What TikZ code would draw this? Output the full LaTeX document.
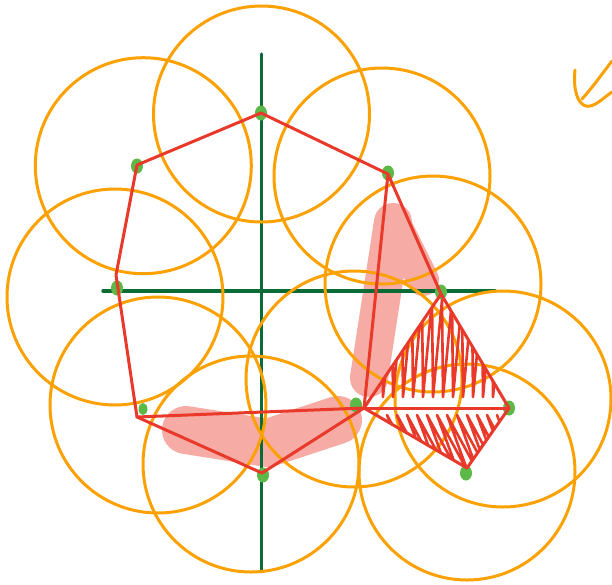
\documentclass[tikz,border=0pt]{standalone}
\usepackage{xcolor}
\usetikzlibrary{shapes.geometric}
\definecolor{diskorange}{HTML}{FBA104}
\definecolor{hullred}{HTML}{E8392B}
\definecolor{smudgepink}{HTML}{F6ABA4}
\definecolor{axisgreen}{HTML}{0B6B36}
\definecolor{dotgreen}{HTML}{5DB947}

\begin{document}
\begin{tikzpicture}[
  x=1pt, y=-1pt,
  disk/.style={draw=diskorange, line width=3pt, circle, minimum size=216pt, inner sep=0pt},
  dot/.style={ellipse, fill=dotgreen, minimum width=12pt, minimum height=15pt, inner sep=0pt},
  axis/.style={draw=axisgreen, line width=3.5pt, line cap=round},
  hull/.style={draw=hullred, line width=3pt, line join=round, line cap=round},
  hatch/.style={draw=hullred, line width=2.6pt, line cap=round, line join=round},
  smudge/.style={draw=smudgepink, line cap=round, line join=round},
  tick/.style={draw=diskorange, line width=3pt, line cap=round, line join=round},
]
  \useasboundingbox (0,0) rectangle (612,584);

  % Highlight strokes
  \draw[smudge, line width=38pt] (393,222) -- (369,378);
  \draw[smudge, line width=32pt] (397,228) -- (423,280);
  \draw[smudge, line width=48pt] (186,430) -- (268,443) -- (338,420);

  % Axes
  \coordinate (xleft) at (103,291);
  \coordinate (xright) at (495,291);
  \coordinate (ytop) at (261.5,54);
  \coordinate (ybot) at (261.5,570);
  \draw[axis] (xleft) -- (xright);
  \draw[axis] (ytop) -- (ybot);

  % Disks
  \node[disk] (dn) at (261.5,114) {};
  \node[disk] (dnw) at (143.3,165.7) {};
  \node[disk] (dne) at (382,176) {};
  \node[disk] (dw) at (115,297) {};
  \node[disk] (de) at (433,284) {};
  \node[disk] (dsw) at (158,405) {};
  \node[disk] (dc) at (354,379) {};
  \node[disk] (dee) at (503,399) {};
  \node[disk] (ds) at (251,464) {};
  \node[disk] (dse) at (467,472) {};

  % Points
  \node[dot] (n) at (261,113) {};
  \node[dot] (nw) at (137,166) {};
  \node[dot] (ne) at (388,173) {};
  \node[dot] (w) at (117,288) {};
  \node[dot] (e) at (441,292) {};
  \node[dot, minimum width=9pt, minimum height=12pt] (sw) at (143,409) {};
  \node[dot] (c) at (356,405) {};
  \node[dot] (s) at (263,475) {};
  \node[dot] (ee) at (509,408) {};
  \node[dot] (se) at (466,473) {};

  % Hull corners
  \coordinate (h1) at (137,165);
  \coordinate (h2) at (261,113);
  \coordinate (h3) at (388,174);
  \coordinate (h4) at (364,408);
  \coordinate (h5) at (262,473);
  \coordinate (h6) at (137,417);
  \coordinate (h7) at (116,275);
  \coordinate (q1) at (441,294);
  \coordinate (q2) at (509,408);
  \coordinate (q3) at (467,468);

  % Hatched region
  \begin{scope}
    \clip (h4) -- (q1) -- (q2) -- cycle;
    \draw[hatch] (372,396) \foreach \x in {378,388,...,500} { -- (\x+4,300) -- (\x+5,397) };
  \end{scope}
  \begin{scope}
    \clip (h4) -- (q2) -- (q3) -- cycle;
    \draw[hatch] (368,415) \foreach \x in {374,384,...,494} { -- (\x+24,472) -- (\x+3,415) };
  \end{scope}

  % Hull
  \draw[hull] (h1) -- (h2) -- (h3) -- (h4) -- (h5) -- (h6) -- (h7) -- cycle;
  \draw[hull] (h6) -- (h4);
  \draw[hull] (h3) -- (q1);
  \draw[hull] (h4) -- (q1) -- (q2) -- (q3) -- cycle;
  \draw[hull] (h4) -- (q2);

  % Tick mark
  \coordinate (t1) at (575,70);
  \coordinate (t2) at (612,92);
  \coordinate (t3) at (582,99);
  \coordinate (t4) at (612,61);
  \draw[tick] (t1) .. controls (573,88) and (577,104) .. (586,106) .. controls (594,108) and (603,98) .. (t2);
  \draw[tick] (t3) .. controls (592,88) and (602,74) .. (t4);
\end{tikzpicture}
\end{document}
